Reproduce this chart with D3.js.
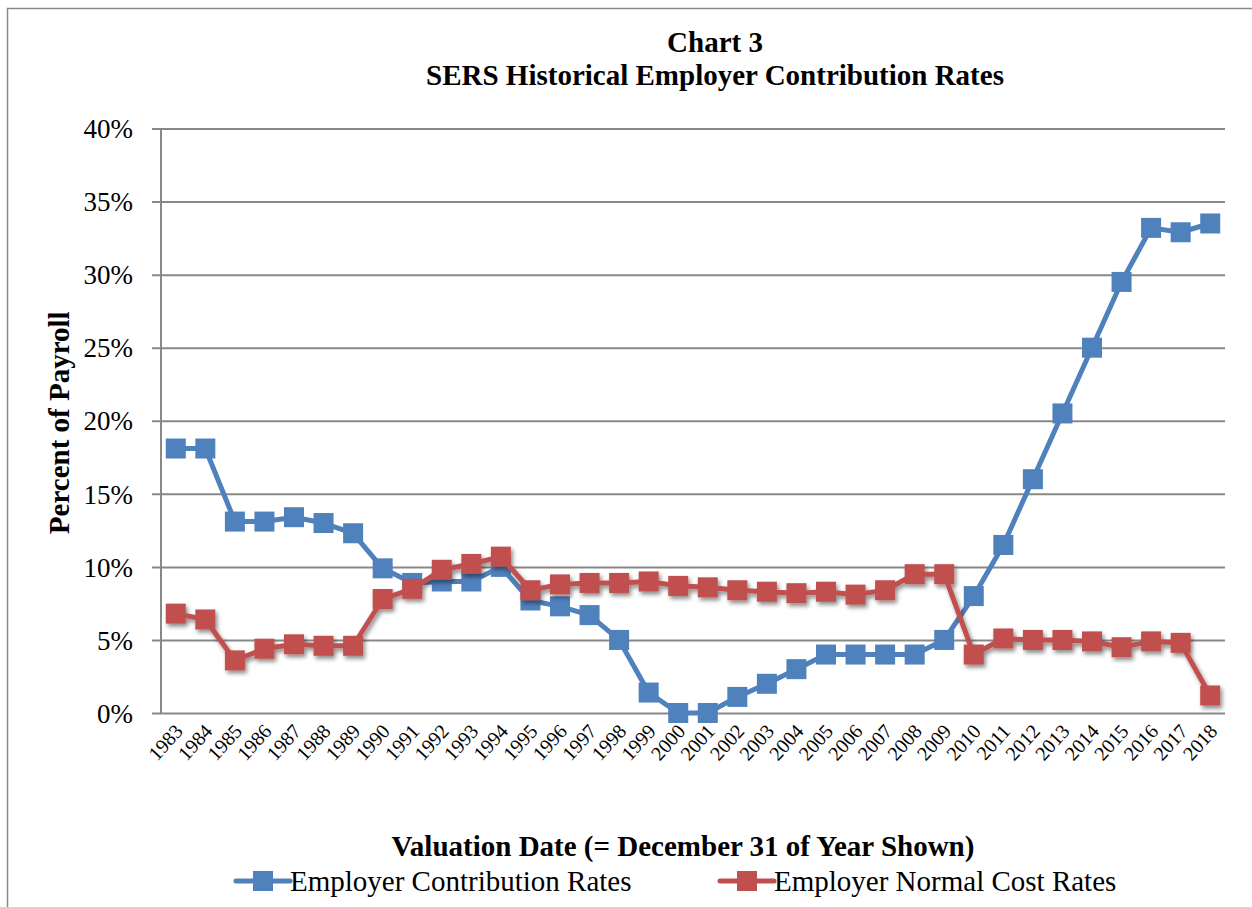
<!DOCTYPE html>
<html>
<head>
<meta charset="utf-8">
<script src="https://cdn.jsdelivr.net/npm/d3@7"></script>
<style>
  body { margin: 0; background: #fff; }
  svg { display: block; font-family: "Liberation Serif", "Times New Roman", serif; }
</style>
</head>
<body>
<div id="chart"></div>
<script>
const years = d3.range(1983, 2019).map(String);

const contributionRates = [18.1, 18.1, 13.1, 13.1, 13.4, 13.0, 12.3, 9.9, 8.9, 9.0,
  9.0, 10.0, 7.7, 7.3, 6.7, 5.0, 1.4, 0.0, 0.0, 1.1,
  2.0, 3.0, 4.0, 4.0, 4.0, 4.0, 5.0, 8.0, 11.5, 16.0,
  20.5, 25.0, 29.5, 33.2, 32.9, 33.5];

const normalCostRates = [6.8, 6.4, 3.6, 4.4, 4.7, 4.6, 4.6, 7.8, 8.5, 9.8,
  10.2, 10.7, 8.4, 8.8, 8.9, 8.9, 9.0, 8.7, 8.6, 8.4,
  8.3, 8.2, 8.3, 8.1, 8.4, 9.5, 9.5, 4.0, 5.1, 5.0,
  5.0, 4.9, 4.5, 4.9, 4.8, 1.2];

const yTicks = [0, 5, 10, 15, 20, 25, 30, 35, 40];

const series = [
  { name: "Employer Contribution Rates", values: contributionRates, color: "#4F81BD", shadow: false },
  { name: "Employer Normal Cost Rates", values: normalCostRates, color: "#C0504D", shadow: true }
];

const width = 1252, height = 907;
const margin = { top: 128.5, right: 27, bottom: 194, left: 161 };
const innerW = width - margin.left - margin.right;
const innerH = height - margin.top - margin.bottom;

const svg = d3.select("#chart").append("svg")
    .attr("width", width)
    .attr("height", height);

const defs = svg.append("defs");
const shadow = defs.append("filter")
    .attr("id", "shadow")
    .attr("x", "-50%").attr("y", "-50%")
    .attr("width", "200%").attr("height", "200%");
shadow.append("feDropShadow")
    .attr("dx", 2).attr("dy", 3)
    .attr("stdDeviation", 2)
    .attr("flood-color", "#000")
    .attr("flood-opacity", 0.45);

// outer frame
svg.append("rect")
    .attr("x", 7.5).attr("y", 8.5)
    .attr("width", 1260).attr("height", 920)
    .attr("fill", "none")
    .attr("stroke", "#888")
    .attr("stroke-width", 1.5);

// titles
svg.append("text")
    .attr("x", 715).attr("y", 52)
    .attr("text-anchor", "middle")
    .attr("font-weight", "bold")
    .attr("font-size", "29px")
    .text("Chart 3");
svg.append("text")
    .attr("x", 715).attr("y", 85)
    .attr("text-anchor", "middle")
    .attr("font-weight", "bold")
    .attr("font-size", "29px")
    .text("SERS Historical Employer Contribution Rates");

const g = svg.append("g")
    .attr("transform", `translate(${margin.left},${margin.top})`);

const x = d3.scaleBand()
    .domain(years)
    .range([0, innerW]);

const y = d3.scaleLinear()
    .domain([0, 40])
    .range([innerH, 0]);

// gridlines + y axis
const yAxis = g.append("g")
    .call(d3.axisLeft(y).tickValues(yTicks).tickSize(9).tickFormat(d => d + "%"));
yAxis.select(".domain").remove();
yAxis.selectAll(".tick line")
    .attr("stroke", "#888").attr("stroke-width", 2)
    .attr("x1", -9)
    .attr("x2", innerW);
yAxis.selectAll(".tick text")
    .attr("x", -28)
    .attr("dy", "0.34em")
    .attr("font-size", "27px")
    .attr("font-family", "Liberation Serif, serif")
    .attr("fill", "#000");

// vertical axis line
g.append("line")
    .attr("x1", 0).attr("x2", 0)
    .attr("y1", 0).attr("y2", innerH)
    .attr("stroke", "#888").attr("stroke-width", 2);

// x axis labels
const xAxis = g.append("g")
    .attr("transform", `translate(0,${innerH})`)
    .call(d3.axisBottom(x).tickSize(0));
xAxis.select(".domain").remove();
xAxis.selectAll(".tick text")
    .attr("font-size", "20px")
    .attr("font-family", "Liberation Serif, serif")
    .attr("fill", "#000")
    .attr("text-anchor", "end")
    .attr("dy", 0)
    .attr("transform", "translate(6,17) rotate(-48)");

// lines
const line = d3.line()
    .x((d, i) => x(years[i]) + x.bandwidth() / 2)
    .y(d => y(d));

series.forEach(s => {
    const sg = g.append("g")
        .attr("filter", s.shadow ? "url(#shadow)" : null);

    sg.append("path")
        .datum(s.values)
        .attr("fill", "none")
        .attr("stroke", s.color)
        .attr("stroke-width", 5)
        .attr("stroke-linejoin", "round")
        .attr("d", line);

    sg.selectAll("rect.marker")
        .data(s.values)
        .enter().append("rect")
        .attr("class", "marker")
        .attr("x", (d, i) => x(years[i]) + x.bandwidth() / 2 - 10)
        .attr("y", d => y(d) - 10)
        .attr("width", 20)
        .attr("height", 20)
        .attr("fill", s.color);
});

// axis titles
svg.append("text")
    .attr("transform", `translate(69,${margin.top + innerH / 2 + 2}) rotate(-90)`)
    .attr("text-anchor", "middle")
    .attr("font-weight", "bold")
    .attr("font-size", "29px")
    .text("Percent of Payroll");

svg.append("text")
    .attr("x", 683).attr("y", 856)
    .attr("text-anchor", "middle")
    .attr("font-weight", "bold")
    .attr("font-size", "29px")
    .text("Valuation Date (= December 31 of Year Shown)");

// legend
const legendItems = [
    { s: series[0], x: 236 },
    { s: series[1], x: 720 }
];
legendItems.forEach(item => {
    const lg = svg.append("g").attr("transform", `translate(${item.x},881)`);
    lg.append("line")
        .attr("x1", 0).attr("x2", 54)
        .attr("stroke", item.s.color)
        .attr("stroke-width", 5)
        .attr("stroke-linecap", "round");
    lg.append("rect")
        .attr("x", 17).attr("y", -10)
        .attr("width", 20).attr("height", 20)
        .attr("fill", item.s.color);
    lg.append("text")
        .attr("x", 54).attr("y", 0)
        .attr("dy", "0.35em")
        .attr("font-size", "29px")
        .text(item.s.name);
});
</script>
</body>
</html>
